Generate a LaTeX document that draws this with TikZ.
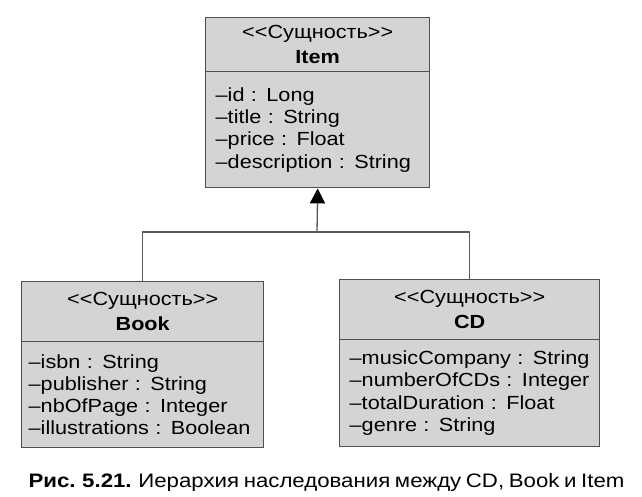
\documentclass[tikz,border=0pt]{standalone}
\usepackage{fontspec}
\setmainfont{Liberation Sans}[FakeStretch=1.14,WordSpace=0.75]
\usetikzlibrary{arrows.meta}
\definecolor{umlfill}{HTML}{D4D4D4}
\definecolor{umlline}{HTML}{505050}

\begin{document}
\begin{tikzpicture}[x=1pt,y=-1pt,>={Triangle[length=15pt,width=15pt,color=black]},
    head/.style={draw=umlline,fill=umlfill,line width=1.4pt,anchor=north west,
      align=center,inner sep=0pt,font={\fontsize{19}{24.5}\selectfont}},
    attrs/.style={draw=umlline,fill=umlfill,line width=1.4pt,anchor=north west,
      align=left,inner xsep=10pt,inner ysep=0pt,font={\fontsize{19}{22.3}\selectfont}},
    link/.style={draw=black!65,line width=1.3pt}]
    \useasboundingbox (0,0) rectangle (642,497);
    % Item
    \node[head,minimum width=224pt,minimum height=54pt] (itemh) at (205,17)
    {<\kern0pt<Сущность>\kern0pt>\\\textbf{Item}};
    \node[attrs,text width=204pt,minimum height=116pt] (item) at (205,71)
    {–id : Long\\–title : String\\–price : Float\\–description : String};
    % Book
    \node[head,minimum width=242pt,minimum height=60pt] (bookh) at (21,281)
    {<\kern0pt<Сущность>\kern0pt>\\\textbf{Book}};
    \node[attrs,inner xsep=7pt,text width=228pt,minimum height=106pt] (book) at (21,341)
    {–isbn : String\\–publisher : String\\–nbOfPage : Integer\\–illustrations : Boolean};
    % CD
    \node[head,minimum width=260pt,minimum height=60pt] (cdh) at (339,279)
    {<\kern0pt<Сущность>\kern0pt>\\\textbf{CD}};
    \node[attrs,text width=240pt,minimum height=107pt] (cd) at (339,339)
    {–musicCompany : String\\–numberOfCDs : Integer\\–totalDuration : Float\\–genre : String};
    % inheritance
    \coordinate (fork) at (317,232);
    \draw[link] (bookh.north) |- (fork) -| (cdh.north);
    \draw[link,->] (fork) -- (item.south);
    \node[anchor=base,inner sep=0pt,font={\fontsize{19.5}{22}\selectfont}] (caption) at (326.5,487)
    {\textbf{Рис. 5.21.} Иерархия наследования между CD, Book и Item};
\end{tikzpicture}
\end{document}
